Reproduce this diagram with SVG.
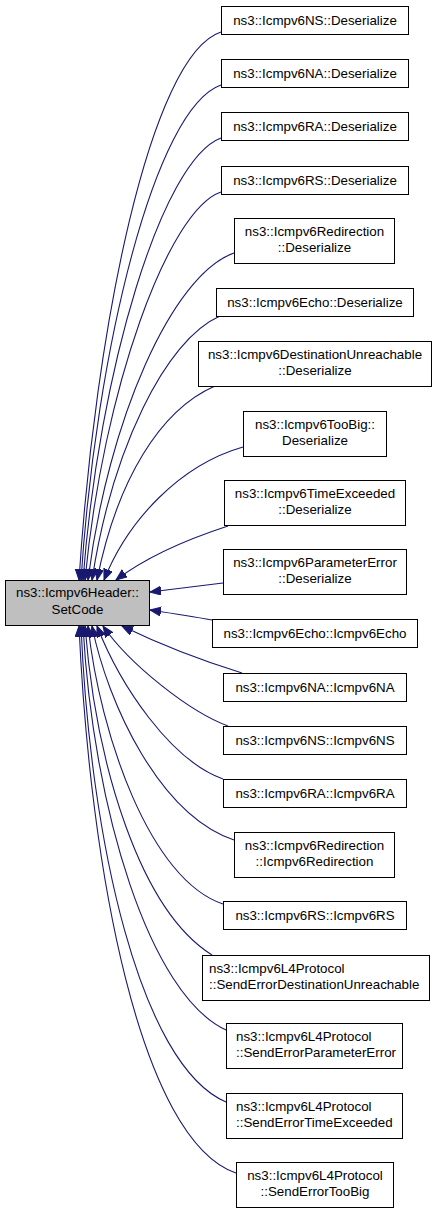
<svg xmlns="http://www.w3.org/2000/svg" width="437" height="1213" viewBox="0 0 437 1213">
<style>
.n rect{fill:#ffffff;stroke:#000000;stroke-width:1}
.m rect{fill:#bfbfbf;stroke:#000000;stroke-width:1}
text{font-family:"Liberation Sans",Arial,sans-serif;font-size:13.33px;fill:#000000;text-anchor:middle}
text.l{text-anchor:start}
#edges path{fill:none;stroke:#191970;stroke-width:1.1;marker-end:url(#arr)}
</style>
<defs>
<marker id="arr" markerUnits="userSpaceOnUse" markerWidth="12" markerHeight="10" refX="11" refY="4.5" orient="auto" viewBox="0 0 12 10">
<path d="M0,0 L11,4.5 L0,9 z" fill="#191970" stroke="#191970" stroke-width="1"/>
</marker>
</defs>
<rect width="437" height="1213" fill="#ffffff"/>
<g id="edges">
<path d="M221,32 C150,55 95,330 79,580"/>
<path d="M221,85 C155,108 96,350 81,580"/>
<path d="M221,138 C162,160 99,370 83,580"/>
<path d="M221,192 C168,210 103,390 85,580"/>
<path d="M234,253 C172,275 108,420 88,580"/>
<path d="M220,316 C165,340 112,450 92,580"/>
<path d="M215,386 C160,410 117,480 97,580"/>
<path d="M243,447 C180,465 128,520 104,580"/>
<path d="M228,526 C185,540 145,558 116,580"/>
<path d="M223,583 C200,586 175,589 150,592"/>
<path d="M212,620 C190,616 170,613 150,610"/>
<path d="M242,673 C200,660 155,642 122,626"/>
<path d="M228,726 C190,712 130,665 103,626"/>
<path d="M223,779 C170,760 120,685 97,626"/>
<path d="M234,840 C160,815 108,705 92,626"/>
<path d="M223,904 C150,880 100,735 88,626"/>
<path d="M212,955 C140,910 96,765 85,626"/>
<path d="M226,1030 C150,995 93,810 83,626"/>
<path d="M226,1102 C140,1065 90,840 81,626"/>
<path d="M236,1173 C140,1140 90,870 79,626"/>
</g>
<g id="main" class="m"><rect x="5.5" y="580.5" width="144" height="45"/><text x="77.5" y="597">ns3::Icmpv6Header::</text><text x="77.5" y="614">SetCode</text></g>
<g id="n1" class="n"><rect x="221.5" y="6.5" width="187" height="28"/><text x="315" y="24.5">ns3::Icmpv6NS::Deserialize</text></g>
<g id="n2" class="n"><rect x="221.5" y="59.5" width="187" height="28"/><text x="315" y="77.5">ns3::Icmpv6NA::Deserialize</text></g>
<g id="n3" class="n"><rect x="221.5" y="112.5" width="187" height="28"/><text x="315" y="130.5">ns3::Icmpv6RA::Deserialize</text></g>
<g id="n4" class="n"><rect x="221.5" y="166.5" width="187" height="28"/><text x="315" y="184.5">ns3::Icmpv6RS::Deserialize</text></g>
<g id="n5" class="n"><rect x="234.5" y="218.5" width="160" height="45"/><text x="314.5" y="235.5">ns3::Icmpv6Redirection</text><text x="314.5" y="251.5">::Deserialize</text></g>
<g id="n6" class="n"><rect x="216.5" y="288.5" width="197" height="28"/><text x="315" y="306.5">ns3::Icmpv6Echo::Deserialize</text></g>
<g id="n7" class="n"><rect x="198.5" y="341.5" width="233" height="45"/><text x="315" y="358.5">ns3::Icmpv6DestinationUnreachable</text><text x="315" y="374.5">::Deserialize</text></g>
<g id="n8" class="n"><rect x="243.5" y="411.5" width="143" height="45"/><text x="315" y="428.5">ns3::Icmpv6TooBig::</text><text x="315" y="444.5">Deserialize</text></g>
<g id="n9" class="n"><rect x="224.5" y="480.5" width="181" height="45"/><text x="315" y="497.5">ns3::Icmpv6TimeExceeded</text><text x="315" y="513.5">::Deserialize</text></g>
<g id="n10" class="n"><rect x="223.5" y="549.5" width="183" height="45"/><text x="315" y="566.5">ns3::Icmpv6ParameterError</text><text x="315" y="582.5">::Deserialize</text></g>
<g id="n11" class="n"><rect x="212.5" y="619.5" width="205" height="28"/><text x="315" y="637.5">ns3::Icmpv6Echo::Icmpv6Echo</text></g>
<g id="n12" class="n"><rect x="223.5" y="673.5" width="183" height="28"/><text x="315" y="691.5">ns3::Icmpv6NA::Icmpv6NA</text></g>
<g id="n13" class="n"><rect x="223.5" y="726.5" width="183" height="28"/><text x="315" y="744.5">ns3::Icmpv6NS::Icmpv6NS</text></g>
<g id="n14" class="n"><rect x="223.5" y="779.5" width="183" height="28"/><text x="315" y="797.5">ns3::Icmpv6RA::Icmpv6RA</text></g>
<g id="n15" class="n"><rect x="234.5" y="832.5" width="160" height="45"/><text x="314.5" y="849.5">ns3::Icmpv6Redirection</text><text x="314.5" y="865.5">::Icmpv6Redirection</text></g>
<g id="n16" class="n"><rect x="223.5" y="901.5" width="183" height="28"/><text x="315" y="919.5">ns3::Icmpv6RS::Icmpv6RS</text></g>
<g id="n17" class="n"><rect x="202.5" y="955.5" width="227" height="45"/><text class="l" x="209" y="972.5">ns3::Icmpv6L4Protocol</text><text class="l" x="209" y="988.5">::SendErrorDestinationUnreachable</text></g>
<g id="n18" class="n"><rect x="226.5" y="1023.5" width="176" height="45"/><text class="l" x="236" y="1040.5">ns3::Icmpv6L4Protocol</text><text class="l" x="236" y="1056.5">::SendErrorParameterError</text></g>
<g id="n19" class="n"><rect x="226.5" y="1093.5" width="176" height="45"/><text class="l" x="236" y="1110.5">ns3::Icmpv6L4Protocol</text><text class="l" x="236" y="1126.5">::SendErrorTimeExceeded</text></g>
<g id="n20" class="n"><rect x="236.5" y="1162.5" width="157" height="45"/><text x="315" y="1179.5">ns3::Icmpv6L4Protocol</text><text x="315" y="1195.5">::SendErrorTooBig</text></g>
</svg>
